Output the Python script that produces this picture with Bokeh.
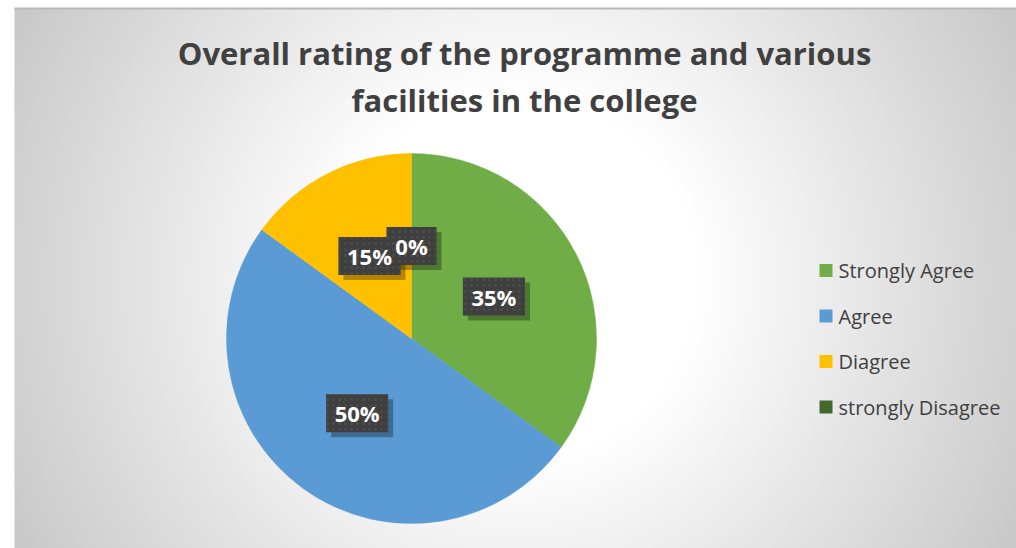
import numpy as np
from bokeh.plotting import figure
from bokeh.models import ColumnDataSource, Range1d
from bokeh.core.properties import value
from bokeh.embed import file_html
from bokeh.resources import INLINE

# ---- data ----
categories = ["Strongly Agree", "Agree", "Diagree", "strongly Disagree"]
percents = [35, 50, 15, 0]
colors = ["#70AD47", "#5B9BD5", "#FFC000", "#43682B"]
title_lines = ["Overall rating of the programme and various", "facilities in the college"]

W, H = 1016, 548
p = figure(width=W, height=H, output_backend="svg", toolbar_location=None,
           x_range=Range1d(0, W), y_range=Range1d(0, H), min_border=0,
           background_fill_color="white", border_fill_color="white")
p.axis.visible = False
p.grid.visible = False
p.outline_line_color = None

# ---- radial gradient background (chart area) ----
x0, top = 14, 540
gw, gh = W - x0, top
jj, ii = np.meshgrid(np.arange(gw), np.arange(gh))
px = x0 + jj + 0.5
py = H - (ii + 0.5)
r = np.hypot(px - 515, py - 278)
c = 255 - 0.142 * np.clip(r - 183, 0, None)
c = np.clip(c, 195, 255).astype(np.uint8)
img = np.empty((gh, gw, 4), dtype=np.uint8)
img[..., 0] = c
img[..., 1] = c
img[..., 2] = c
img[..., 3] = 255
p.image_rgba(image=[img.view(np.uint32).reshape(gh, gw)], x=x0, y=0, dw=gw, dh=gh)
p.segment(x0=[x0], y0=[top], x1=[W], y1=[top], line_color="#b8b8b8", line_width=2)

# ---- pie ----
cx, cy, R = 411, 210, 185
total = float(sum(percents))
cum = np.cumsum([0] + percents)
starts = [np.pi / 2 - cum[i] / total * 2 * np.pi for i in range(len(percents))]
ends = [np.pi / 2 - cum[i + 1] / total * 2 * np.pi for i in range(len(percents))]
mids = [np.pi / 2 - (cum[i] + percents[i] / 2) / total * 2 * np.pi for i in range(len(percents))]

nz = [i for i, v in enumerate(percents) if v > 0]
wsrc = ColumnDataSource(dict(start=[starts[i] for i in nz], end=[ends[i] for i in nz],
                             color=[colors[i] for i in nz]))
p.wedge(x=cx, y=cy, radius=R, start_angle="start", end_angle="end", direction="clock",
        fill_color="color", line_color="color", line_width=0.5, source=wsrc)

# ---- data labels ----
lab = [f"{v}%" for v in percents]
lx = [cx + 0.5 * R * np.cos(m) for m in mids]
ly = [cy + 0.5 * R * np.sin(m) for m in mids]
bw = [50 if len(t) == 2 else 62 for t in lab]
lsrc = ColumnDataSource(dict(x=lx, y=ly, sx=[x + 5 for x in lx], sy=[y - 5 for y in ly],
                             w=bw, text=lab))
p.rect(x="sx", y="sy", width="w", height=38, fill_color="black", fill_alpha=0.3,
       line_color=None, source=lsrc)
p.rect(x="x", y="y", width="w", height=38, fill_color="#3f3f3f", line_color=None,
       hatch_pattern="dot", hatch_color="#4b4b4b", hatch_scale=6, hatch_weight=1.5,
       source=lsrc)
p.text(x="x", y="y", text="text", text_align="center", text_baseline="middle",
       text_color="white", text_font=value("Open Sans"), text_font_style="bold",
       text_font_size="22px", source=lsrc)

# ---- title ----
p.text(x=[524, 524], y=[496, 449], text=title_lines, text_align="center",
       text_baseline="alphabetic", text_color="#404040", text_font=value("Open Sans"),
       text_font_style="bold", text_font_size="31px")

# ---- legend ----
leg_y = [278 - 45.5 * i for i in range(len(categories))]
gsrc = ColumnDataSource(dict(x=[825.5] * len(categories), tx=[838] * len(categories),
                             y=leg_y, color=colors, text=categories))
p.rect(x="x", y="y", width=13, height=13, fill_color="color", line_color=None, source=gsrc)
p.text(x="tx", y="y", text="text", text_align="left", text_baseline="middle",
       text_color="#404040", text_font=value("Open Sans"), text_font_size="20px", source=gsrc)

open("out.html", "w").write(file_html(p, INLINE))
